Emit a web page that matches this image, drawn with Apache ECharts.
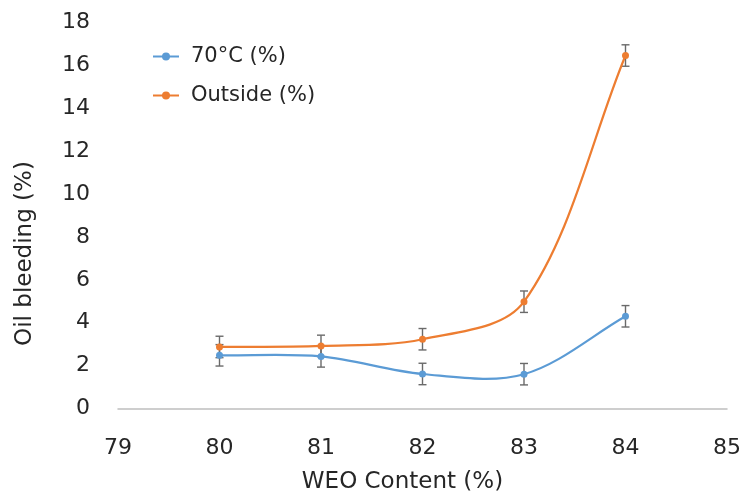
<!DOCTYPE html>
<html><head><meta charset="utf-8">
<script src="https://cdn.jsdelivr.net/npm/echarts@6/dist/echarts.min.js"></script>
<style>html,body{margin:0;padding:0;background:#fff}#c{width:742px;height:493px}</style>
</head><body><div id="c"></div>
<script>
const xValues = [80, 81, 82, 83, 84];
const series70 = [2.48, 2.43, 1.61, 1.60, 4.30];
const seriesOutside = [2.87, 2.92, 3.23, 4.98, 16.46];
const err70 = [0.5, 0.5, 0.5, 0.5, 0.5];
const errOutside = [0.5, 0.5, 0.5, 0.5, 0.5];
const names = ['70°C (%)', 'Outside (%)'];
const colors = ['#5B9BD5', '#ED7D31'];

const FONT = 'DejaVu Sans';
const TXT = '#262626';
const chart = echarts.init(document.getElementById('c'));

function errData(vals, errs) {
  return xValues.map((x, i) => [x, vals[i] - errs[i], vals[i] + errs[i]]);
}
function errRender(params, api) {
  const x = api.value(0);
  const lo = api.coord([x, api.value(1)]);
  const hi = api.coord([x, api.value(2)]);
  const w = 4;
  const st = { stroke: '#6a6a6a', lineWidth: 1.4 };
  return { type: 'group', children: [
    { type: 'line', shape: { x1: lo[0], y1: lo[1], x2: hi[0], y2: hi[1] }, style: st },
    { type: 'line', shape: { x1: lo[0] - w, y1: lo[1], x2: lo[0] + w, y2: lo[1] }, style: st },
    { type: 'line', shape: { x1: hi[0] - w, y1: hi[1], x2: hi[0] + w, y2: hi[1] }, style: st }
  ]};
}
// length-weighted cardinal smoothing (like spreadsheet smoothed lines)
function curveRenderer(vals, color) {
  return function (params, api) {
    const i = params.dataIndex;
    const n = xValues.length;
    if (i >= n - 1) return null;
    const P = k => { const j = Math.max(0, Math.min(n - 1, k)); return api.coord([xValues[j], vals[j]]); };
    const p0 = P(i - 1), p1 = P(i), p2 = P(i + 1), p3 = P(i + 2);
    const d = (a, b) => Math.hypot(b[0] - a[0], b[1] - a[1]);
    const d01 = d(p0, p1), d12 = d(p1, p2), d23 = d(p2, p3);
    const f1 = (d01 + d12) > 0 ? (1 / 3) * d12 / (d01 + d12) : 0;
    const f2 = (d12 + d23) > 0 ? (1 / 3) * d12 / (d12 + d23) : 0;
    const c1 = [p1[0] + (p2[0] - p0[0]) * f1, p1[1] + (p2[1] - p0[1]) * f1];
    const c2 = [p2[0] - (p3[0] - p1[0]) * f2, p2[1] - (p3[1] - p1[1]) * f2];
    return { type: 'bezierCurve',
      shape: { x1: p1[0], y1: p1[1], cpx1: c1[0], cpy1: c1[1], cpx2: c2[0], cpy2: c2[1], x2: p2[0], y2: p2[1] },
      style: { stroke: color, lineWidth: 2.2, fill: null } };
  };
}

chart.setOption({
  animation: false,
  textStyle: { fontFamily: FONT },
  grid: { left: 118, right: 15, top: 22.5, bottom: 84.5, outerBoundsMode: 'none', containLabel: false },
  legend: {
    orient: 'vertical', left: 147, top: 41, itemGap: 18, itemWidth: 26, itemHeight: 10,
    textStyle: { fontSize: 21, color: TXT, fontFamily: FONT, padding: [0, 0, 0, 7] },
    data: names.map((nm, k) => ({ name: nm, lineStyle: { color: colors[k], width: 2, opacity: 1 } }))
  },
  xAxis: {
    type: 'value', min: 79, max: 85, interval: 1,
    name: 'WEO Content (%)', nameLocation: 'middle', nameGap: 62,
    nameTextStyle: { fontSize: 23, color: TXT, fontFamily: FONT, padding: [0, 40, 0, 0] },
    axisLine: { lineStyle: { color: '#BFBFBF', width: 1.5 } },
    axisTick: { show: false }, splitLine: { show: false },
    axisLabel: { fontSize: 22, color: TXT, margin: 29, fontFamily: FONT }
  },
  yAxis: {
    type: 'value', min: 0, max: 18, interval: 2,
    name: 'Oil bleeding (%)', nameLocation: 'middle', nameGap: 81,
    nameTextStyle: { fontSize: 23, color: TXT, fontFamily: FONT, padding: [0, 76, 0, 0] },
    axisLine: { show: false }, axisTick: { show: false }, splitLine: { show: false },
    axisLabel: { fontSize: 22, color: TXT, margin: 28, fontFamily: FONT }
  },
  series: [
    { type: 'custom', renderItem: errRender, data: errData(series70, err70), z: 1, silent: true },
    { type: 'custom', renderItem: errRender, data: errData(seriesOutside, errOutside), z: 1, silent: true },
    { type: 'custom', renderItem: curveRenderer(series70, colors[0]), data: xValues.map((x, i) => [x, series70[i]]), z: 2, silent: true },
    { type: 'custom', renderItem: curveRenderer(seriesOutside, colors[1]), data: xValues.map((x, i) => [x, seriesOutside[i]]), z: 2, silent: true },
    { name: names[0], type: 'line', data: xValues.map((x, i) => [x, series70[i]]),
      symbol: 'circle', symbolSize: 7, z: 3,
      itemStyle: { color: colors[0] }, lineStyle: { color: colors[0], width: 2, opacity: 0 } },
    { name: names[1], type: 'line', data: xValues.map((x, i) => [x, seriesOutside[i]]),
      symbol: 'circle', symbolSize: 7, z: 3,
      itemStyle: { color: colors[1] }, lineStyle: { color: colors[1], width: 2, opacity: 0 } }
  ]
});
</script></body></html>
